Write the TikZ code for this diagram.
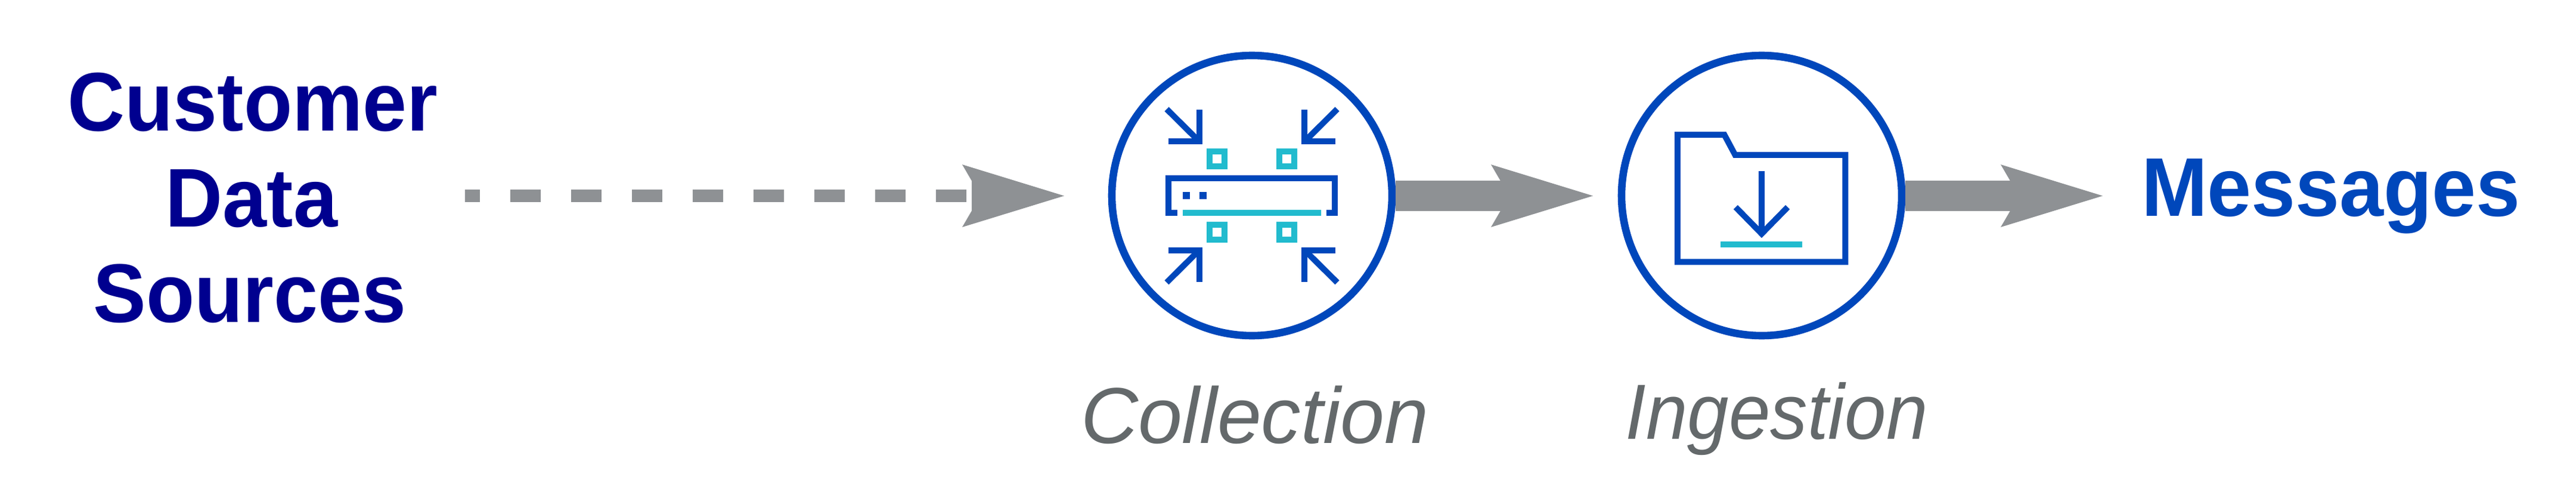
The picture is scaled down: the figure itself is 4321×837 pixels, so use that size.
\documentclass[tikz,border=0pt]{standalone}
\usepackage{graphicx}
\usepackage{fontspec}
\setmainfont{Liberation Sans}
\definecolor{navytxt}{HTML}{00008F}
\definecolor{blueic}{HTML}{0047BB}
\definecolor{tealic}{HTML}{22BBCE}
\definecolor{grayar}{HTML}{8E9194}
\definecolor{graytx}{HTML}{64696B}
\tikzset{
  px/.style={x=1pt,y=-1pt},
  ringnode/.style={circle,draw=blueic,line width=12.6pt,minimum size=470pt,inner sep=0pt,fill=white},
  icb/.style={draw=blueic,line width=10pt,miter limit=10},
  ict/.style={draw=tealic,line width=10pt,miter limit=10},
  shaftline/.style={draw=grayar,line width=51pt},
  dashline/.style={draw=grayar,line width=21pt,dash pattern=on 51pt off 51pt,dash phase=26pt},
  headfill/.style={fill=grayar,draw=none},
  srctext/.style={font=\fontsize{133}{133}\selectfont\bfseries,text=navytxt,anchor=base,inner sep=0pt},
  msgtext/.style={font=\fontsize{133}{133}\selectfont\bfseries,text=blueic,anchor=base,inner sep=0pt},
  captext/.style={font=\fontsize{133}{133}\selectfont\itshape,text=graytx,anchor=base,inner sep=0pt},
  captextb/.style={font=\fontsize{125}{125}\selectfont\itshape,text=graytx,anchor=base,inner sep=0pt}
}
\newcommand{\ahead}[1]{\fill[headfill] (#1) -- ++(-171,-52.5) -- ++(16,27.5) -- ++(0,50) -- ++(-16,27.5) -- cycle;}
\newcommand{\tall}[1]{\scalebox{1}[1.05]{#1}}
\begin{document}
\begin{tikzpicture}[px]
\useasboundingbox (0,0) rectangle (4321,837);
% arrows
\coordinate (tipa) at (1785,328.5);
\coordinate (tipb) at (2672,328.5);
\coordinate (tipc) at (3527,328.5);
\coordinate (srcend) at (780,328.5);
\coordinate (dashend) at (1630,328.5);
\node[ringnode] (coll) at (2100,328) {};
\node[ringnode] (ing) at (2955,328) {};
\draw[dashline] (srcend) -- (dashend);
\draw[shaftline] (coll.east) -- ++(176,0) coordinate (s1);
\draw[shaftline] (ing.east) -- ++(176,0) coordinate (s2);
\ahead{tipa}
\ahead{tipb}
\ahead{tipc}
% collection icon
\foreach \sx in {1,-1}{\foreach \sy in {1,-1}{
  \begin{scope}[shift={(2100,328.4)},xscale=\sx,yscale=\sy]
    \draw[icb] (-140.4,-91.2) -- (-88.4,-91.2) -- (-88.4,-144.1);
    \draw[icb] (-143,-145.4) -- (-88.4,-91.2);
    \draw[ict] (-71,-74) rectangle (-46,-49);
  \end{scope}
}}
\draw[icb] (1974.9,357.3) -- (1960.4,357.3) -- (1960.4,298.5) -- (2239.4,298.5) -- (2239.4,357.3) -- (2225.2,357.3);
\fill[blueic] (1984,322) rectangle (1996,334);
\fill[blueic] (2012,322) rectangle (2024,334);
\draw[ict] (1984,357.3) -- (2215.6,357.3);
% ingestion icon
\draw[icb] (2813.8,226.2) -- (2892.5,226.2) -- (2910.5,259.9) -- (3095.4,259.9) -- (3095.4,439.3) -- (2813.8,439.3) -- cycle;
\draw[icb] (2955,286.6) -- (2955,392);
\draw[icb] (2911.4,347.5) -- (2955,392) -- (2998.6,347.5);
\draw[ict] (2886,409.7) -- (3022.8,409.7);
% text
\node[srctext] (t1) at (424,220) {\tall{Customer}};
\node[srctext] (t2) at (422,380) {\tall{Data}};
\node[srctext] (t3) at (419,540) {\tall{Sources}};
\node[msgtext] (t4) at (3910,362) {\tall{Messages}};
\node[captext] (t5) at (2105,743) {Collection};
\node[captextb] (t6) at (2980,736) {\tall{Ingestion}};
\end{tikzpicture}
\end{document}
